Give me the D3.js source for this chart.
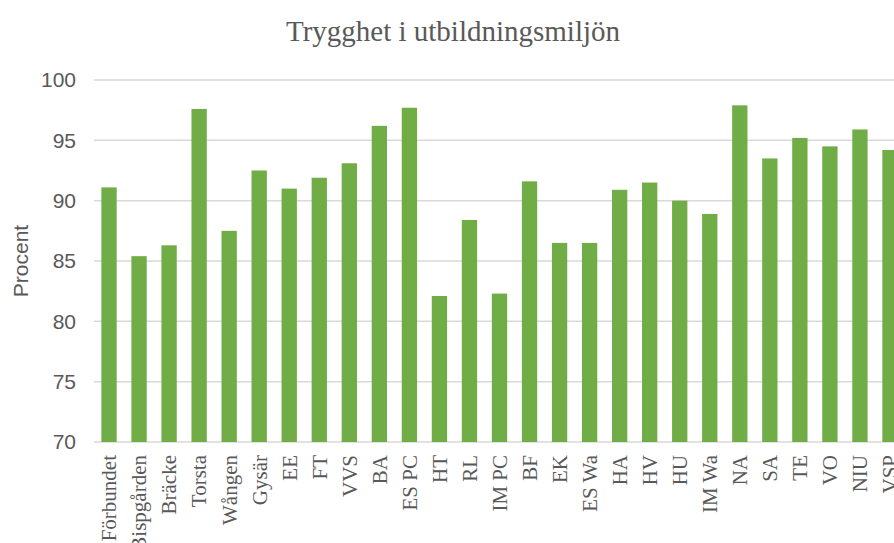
<!DOCTYPE html>
<html>
<head>
<meta charset="utf-8">
<script src="https://cdn.jsdelivr.net/npm/d3@7"></script>
<style>
  body { margin: 0; background: #fff; }
  svg { display: block; }
</style>
</head>
<body>
<svg width="894" height="543"></svg>
<script>
const width = 894;
const height = 543;
const margin = { top: 80, right: -11, bottom: 101, left: 94 };

// enheter och andel trygga elever
const units = ["Förbundet", "Bispgården", "Bräcke", "Torsta", "Wången", "Gysär", "EE", "FT", "VVS", "BA", "ES PC", "HT", "RL", "IM PC", "BF", "EK", "ES Wa", "HA", "HV", "HU", "IM Wa", "NA", "SA", "TE", "VO", "NIU", "VSP"];
const values = [91.1, 85.4, 86.3, 97.6, 87.5, 92.5, 91.0, 91.9, 93.1, 96.2, 97.7, 82.1, 88.4, 82.3, 91.6, 86.5, 86.5, 90.9, 91.5, 90.0, 88.9, 97.9, 93.5, 95.2, 94.5, 95.9, 94.2];
const yTicks = [70, 75, 80, 85, 90, 95, 100];

const data = units.map((u, i) => ({ unit: u, value: values[i] }));

const svg = d3.select("svg");

const xScale = d3.scaleBand().domain(units).range([margin.left, width - margin.right]).paddingInner(0.49).paddingOuter(0.245);
const yScale = d3.scaleLinear().domain([70, 100]).range([height - margin.bottom, margin.top]);

// rutnät
svg.append("g")
  .selectAll("line")
  .data(yTicks)
  .enter()
  .append("line")
  .attr("x1", margin.left)
  .attr("x2", width)
  .attr("y1", d => yScale(d))
  .attr("y2", d => yScale(d))
  .attr("stroke", "#d9d9d9")
  .attr("stroke-width", 1.5);

const yAxis = d3.axisLeft(yScale).tickValues(yTicks).tickSize(0).tickPadding(18);
const yG = svg.append("g").attr("transform", `translate(${[margin.left, 0]})`).call(yAxis);
yG.select(".domain").remove();
yG.selectAll("text")
  .attr("font-family", "Liberation Sans, Arial, sans-serif")
  .attr("font-size", 21)
  .attr("fill", "#595959");

svg.selectAll("rect")
  .data(data)
  .enter()
  .append("rect")
  .attr("x", d => xScale(d.unit))
  .attr("width", xScale.bandwidth())
  .attr("y", d => yScale(d.value))
  .attr("height", d => yScale(70) - yScale(d.value))
  .attr("fill", "#70ad47");

const xAxis = d3.axisBottom(xScale).tickSize(0);
const xG = svg.append("g").attr("transform", `translate(${[0, height - margin.bottom]})`).call(xAxis);
xG.select(".domain").remove();
xG.selectAll("text")
  .attr("font-family", "Liberation Serif, Times New Roman, serif")
  .attr("font-size", 21)
  .attr("fill", "#595959")
  .attr("text-anchor", "end")
  .attr("transform", "rotate(-90)")
  .attr("x", -13)
  .attr("y", 0)
  .attr("dy", "0.35em");

svg.append("text")
  .attr("transform", `translate(${[28, (margin.top + height - margin.bottom) / 2]}) rotate(-90)`)
  .attr("text-anchor", "middle")
  .attr("font-family", "Liberation Sans, Arial, sans-serif")
  .attr("font-size", 21)
  .attr("fill", "#595959")
  .text("Procent");

svg.append("text")
  .attr("x", 453)
  .attr("y", 41)
  .attr("text-anchor", "middle")
  .attr("font-family", "Liberation Serif, Times New Roman, serif")
  .attr("font-size", 29)
  .attr("fill", "#595959")
  .text("Trygghet i utbildningsmiljön");
</script>
</body>
</html>
